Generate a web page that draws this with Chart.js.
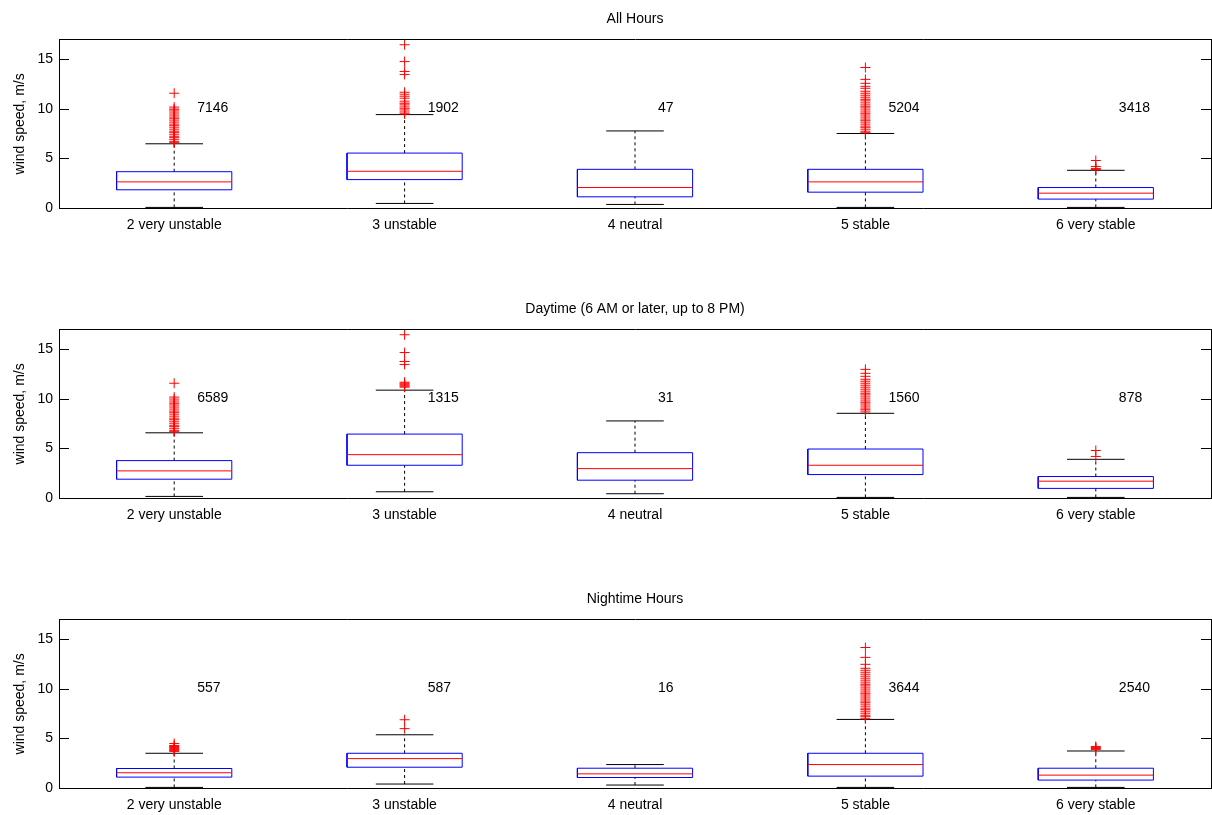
<!DOCTYPE html>
<html>
<head>
<meta charset="utf-8">
<script src="https://cdn.jsdelivr.net/npm/chart.js@4.4.0/dist/chart.umd.min.js"></script>
<style>
  body { margin: 0; background: #fff; overflow: hidden; }
  .panel { position: absolute; left: 0; width: 1212px; height: 235px; }
</style>
</head>
<body>
<div class="panel" style="top:0px"><canvas id="allChart" width="1212" height="235"></canvas></div>
<div class="panel" style="top:290px"><canvas id="dayChart" width="1212" height="235"></canvas></div>
<div class="panel" style="top:580px"><canvas id="nightChart" width="1212" height="235"></canvas></div>
<script>
Chart.defaults.font.family = '"Liberation Sans", Arial, Helvetica, sans-serif';
Chart.defaults.font.size = 14;
Chart.defaults.color = '#000';

const categories = ['2 very unstable', '3 unstable', '4 neutral', '5 stable', '6 very stable'];
const positions = [1, 2, 3, 4, 5];

// All Hours
const allQ1 = [1.84, 2.87, 1.13, 1.60, 0.90];
const allMedian = [2.64, 3.71, 2.07, 2.64, 1.50];
const allQ3 = [3.67, 5.55, 3.91, 3.91, 2.07];
const allLow = [0.06, 0.46, 0.36, 0.06, 0.06];
const allHigh = [6.49, 9.44, 7.79, 7.53, 3.81];
const allOutliers = [
  [6.6, 6.7, 6.9, 7.1, 7.2, 7.4, 7.6, 7.7, 7.9, 8.1, 8.3, 8.4, 8.6, 8.8, 9.0, 9.1, 9.3, 9.5, 9.7, 9.9, 10.0, 10.2, 11.6],
  [9.5, 9.6, 9.8, 10.0, 10.1, 10.3, 10.5, 10.6, 10.8, 11.1, 11.3, 11.5, 11.7, 13.5, 13.8, 14.8, 16.5],
  [],
  [7.6, 7.7, 7.9, 8.1, 8.2, 8.4, 8.6, 8.8, 8.9, 9.1, 9.3, 9.5, 9.6, 9.8, 10.0, 10.2, 10.3, 10.5, 10.7, 10.9, 11.0, 11.2, 11.4, 11.6, 11.8, 12.1, 12.3, 12.6, 13.0, 14.2],
  [3.9, 4.0, 4.2, 4.8]
];
const allCounts = [7146, 1902, 47, 5204, 3418];

// Daytime
const dayQ1 = [1.90, 3.31, 1.80, 2.37, 0.97];
const dayMedian = [2.74, 4.38, 2.97, 3.31, 1.70];
const dayQ3 = [3.78, 6.46, 4.58, 4.95, 2.17];
const dayLow = [0.16, 0.63, 0.43, 0.06, 0.06];
const dayHigh = [6.59, 10.90, 7.79, 8.56, 3.91];
const dayOutliers = [
  [6.7, 6.8, 7.0, 7.2, 7.3, 7.5, 7.7, 7.9, 8.0, 8.2, 8.4, 8.6, 8.7, 8.9, 9.1, 9.3, 9.5, 9.6, 9.8, 10.0, 10.2, 11.6],
  [11.2, 11.3, 11.4, 11.5, 11.6, 11.7, 13.5, 13.8, 14.7, 16.5],
  [],
  [8.7, 8.9, 9.0, 9.2, 9.4, 9.6, 9.7, 9.9, 10.1, 10.3, 10.5, 10.6, 10.8, 11.0, 11.2, 11.4, 11.6, 11.8, 12.0, 12.3, 12.6, 13.0],
  [4.2, 4.8]
];
const dayCounts = [6589, 1315, 31, 1560, 878];

// Nighttime
const nightQ1 = [1.10, 2.10, 1.06, 1.20, 0.80];
const nightMedian = [1.54, 2.97, 1.43, 2.37, 1.30];
const nightQ3 = [1.97, 3.51, 2.00, 3.51, 2.00];
const nightLow = [0.06, 0.40, 0.30, 0.06, 0.06];
const nightHigh = [3.51, 5.38, 2.37, 6.93, 3.74];
const nightOutliers = [
  [3.7, 3.8, 3.9, 4.0, 4.1, 4.2, 4.3, 4.5],
  [6.0, 6.9],
  [],
  [7.0, 7.2, 7.3, 7.5, 7.7, 7.9, 8.0, 8.2, 8.4, 8.6, 8.7, 8.9, 9.1, 9.3, 9.5, 9.6, 9.8, 10.0, 10.2, 10.4, 10.5, 10.7, 10.9, 11.1, 11.3, 11.5, 11.7, 11.9, 12.1, 12.5, 13.2, 14.2],
  [3.9, 4.0, 4.1, 4.2]
];
const nightCounts = [557, 587, 16, 3644, 2540];

const boxHalf = 0.25;
const capHalf = 0.125;
const countOffset = 0.1;
const countY = 10.1;

function lineSet(data, color, dash) {
  return {
    type: 'scatter', data, showLine: true, spanGaps: false, tension: 0,
    borderColor: color, borderWidth: 1, borderDash: dash || [],
    pointRadius: 0, pointHoverRadius: 0, fill: false
  };
}

function countLabels(counts) {
  return {
    id: 'countLabels',
    afterDatasetsDraw(chart) {
      const { ctx, scales: { x, y } } = chart;
      ctx.save();
      ctx.font = '14px "Liberation Sans", Arial, sans-serif';
      ctx.fillStyle = '#000';
      ctx.textAlign = 'left';
      ctx.textBaseline = 'middle';
      counts.forEach((n, i) => {
        ctx.fillText(String(n), x.getPixelForValue(positions[i] + countOffset), y.getPixelForValue(countY));
      });
      ctx.restore();
    }
  };
}

function makePanel(id, title, q1, med, q3, low, high, outliers, counts) {
  const box = [], median = [], whisk = [], caps = [], outs = [];
  positions.forEach((p, i) => {
    box.push({ x: p - boxHalf, y: q1[i] }, { x: p + boxHalf, y: q1[i] }, { x: p + boxHalf, y: q3[i] },
      { x: p - boxHalf, y: q3[i] }, { x: p - boxHalf, y: q1[i] }, { x: p, y: null });
    median.push({ x: p - boxHalf, y: med[i] }, { x: p + boxHalf, y: med[i] }, { x: p, y: null });
    whisk.push({ x: p, y: q3[i] }, { x: p, y: high[i] }, { x: p, y: null },
      { x: p, y: low[i] }, { x: p, y: q1[i] }, { x: p, y: null });
    caps.push({ x: p - capHalf, y: high[i] }, { x: p + capHalf, y: high[i] }, { x: p, y: null },
      { x: p - capHalf, y: low[i] }, { x: p + capHalf, y: low[i] }, { x: p, y: null });
    outliers[i].forEach(v => outs.push({ x: p, y: v }));
  });

  new Chart(document.getElementById(id), {
    type: 'scatter',
    data: {
      datasets: [
        { data: outs, pointStyle: 'cross', pointRadius: 5, pointBorderColor: '#ff0000', pointBorderWidth: 1, borderColor: '#ff0000' },
        lineSet(median, '#ff0000'),
        lineSet(box, '#0000ff'),
        lineSet(caps, '#000000'),
        lineSet(whisk, '#000000', [3, 3])
      ]
    },
    options: {
      responsive: false,
      animation: false,
      devicePixelRatio: 1,
      layout: { padding: 0, autoPadding: false },
      plugins: {
        legend: { display: false },
        tooltip: { enabled: false },
        title: {
          display: true, text: title, fullSize: false, color: '#000',
          font: { size: 14, weight: 'normal' }, padding: { top: 11, bottom: 12 }
        }
      },
      scales: {
        x: {
          type: 'linear', position: 'bottom', min: 0.5, max: 5.5,
          afterBuildTicks: s => { s.ticks = positions.map(v => ({ value: v })); },
          afterFit: s => { s.height = 27; s.paddingLeft = 0; s.paddingRight = 0; },
          ticks: { callback: v => categories[Math.round(v) - 1], padding: 9, autoSkip: false, maxRotation: 0, color: '#000' },
          grid: { display: false, drawTicks: false },
          border: { display: true, color: '#000', width: 1 }
        },
        xTop: {
          type: 'linear', position: 'top', min: 0.5, max: 5.5,
          afterFit: s => { s.height = 0; s.paddingLeft = 0; s.paddingRight = 0; },
          ticks: { display: false },
          grid: { display: false, drawTicks: false },
          border: { display: true, color: '#000', width: 1 }
        },
        y: {
          type: 'linear', position: 'left', min: 0, max: 17,
          afterFit: s => { s.width = 59; },
          ticks: { stepSize: 5, includeBounds: false, padding: 16, color: '#000' },
          grid: { drawOnChartArea: false, drawTicks: true, tickLength: -10, tickColor: '#000', color: '#000' },
          border: { display: true, color: '#000', width: 1 },
          title: { display: true, text: 'wind speed, m/s', color: '#000', padding: { top: 12, bottom: 0 }, font: { size: 14 } }
        },
        y2: {
          type: 'linear', position: 'right', min: 0, max: 17,
          afterFit: s => { s.width = 1; },
          ticks: { display: false, stepSize: 5, includeBounds: false },
          grid: { drawOnChartArea: false, drawTicks: true, tickLength: -10, tickColor: '#000', color: '#000' },
          border: { display: true, color: '#000', width: 1 }
        }
      }
    },
    plugins: [countLabels(counts)]
  });
}

makePanel('allChart', 'All Hours', allQ1, allMedian, allQ3, allLow, allHigh, allOutliers, allCounts);
makePanel('dayChart', 'Daytime (6 AM or later, up to 8 PM)', dayQ1, dayMedian, dayQ3, dayLow, dayHigh, dayOutliers, dayCounts);
makePanel('nightChart', 'Nightime Hours', nightQ1, nightMedian, nightQ3, nightLow, nightHigh, nightOutliers, nightCounts);
</script>
</body>
</html>
